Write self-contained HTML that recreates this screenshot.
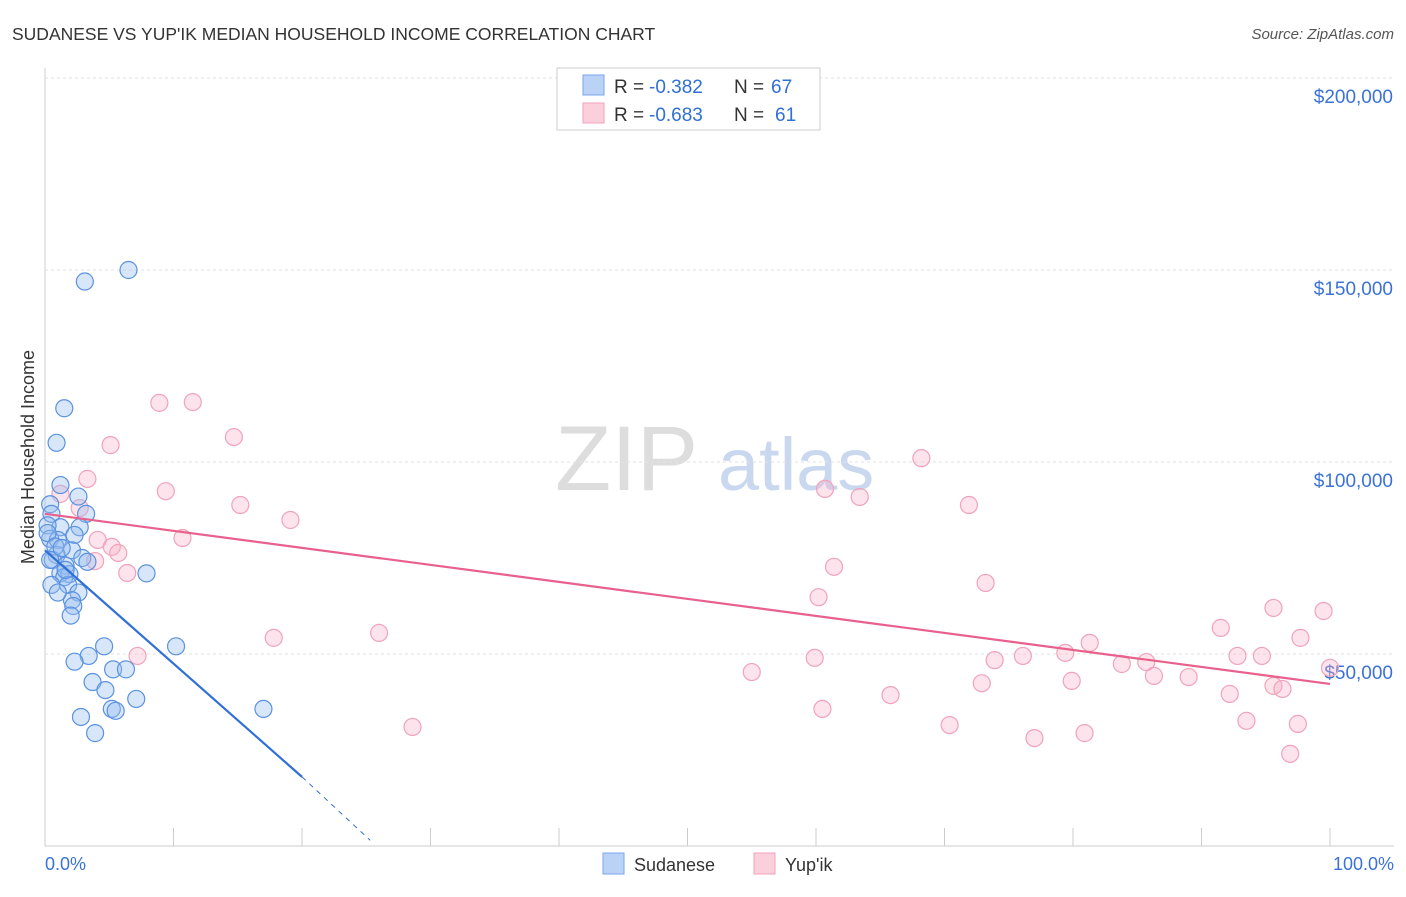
<!DOCTYPE html>
<html><head><meta charset="utf-8"><style>
body{margin:0;background:#fff;font-family:"Liberation Sans",sans-serif}
svg text{font-family:"Liberation Sans",sans-serif}
</style></head><body>
<svg id="chart" width="1406" height="892">
<text x="12" y="40" font-size="17.5" fill="#333">SUDANESE VS YUP'IK MEDIAN HOUSEHOLD INCOME CORRELATION CHART</text>
<text x="1394" y="39" font-size="15" fill="#555" font-style="italic" text-anchor="end">Source: ZipAtlas.com</text>
<g>
<text x="555" y="490" font-size="92" fill="#ddd" font-family="Liberation Serif,serif">ZIP</text>
<text x="718" y="490" font-size="74" fill="#c9d8ef">atlas</text>
</g>
<g id="grid"></g>
<g id="marks"></g>
<g>
<rect x="557" y="68" width="263" height="62" fill="#fff" stroke="#ccc"/>
<rect x="583" y="75" width="21" height="20" fill="#b9d2f5" stroke="#7aa6e8"/>
<rect x="583" y="103" width="21" height="20" fill="#fbcfdc" stroke="#f0a3bb"/>
<text x="614" y="93" font-size="19" fill="#333">R =</text>
<text x="649" y="93" font-size="19" fill="#2f6fd6">-0.382</text>
<text x="734" y="93" font-size="19" fill="#333">N =</text>
<text x="771" y="93" font-size="19" fill="#2f6fd6">67</text>
<text x="614" y="121" font-size="19" fill="#333">R =</text>
<text x="649" y="121" font-size="19" fill="#2f6fd6">-0.683</text>
<text x="734" y="121" font-size="19" fill="#333">N =</text>
<text x="775" y="121" font-size="19" fill="#2f6fd6">61</text>
</g>
<text transform="translate(34,457) rotate(-90)" font-size="18" fill="#333" text-anchor="middle">Median Household Income</text>
<text x="45" y="870" font-size="18" fill="#3a72d8">0.0%</text>
<text x="1394" y="870" font-size="18" fill="#3a72d8" text-anchor="end">100.0%</text>
<g>
<rect x="603" y="853" width="21" height="21" fill="#b9d2f5" stroke="#7aa6e8"/>
<text x="634" y="871" font-size="18" fill="#333">Sudanese</text>
<rect x="754" y="853" width="21" height="21" fill="#fbcfdc" stroke="#f0a3bb"/>
<text x="785" y="871" font-size="18" fill="#333">Yup'ik</text>
</g>
</svg>
<script>
const yTicks=[50000,100000,150000,200000];
const yTickLabels=["$50,000","$100,000","$150,000","$200,000"];
const blueX=[6.5,3.1,1.5,0.9,1.2,2.6,0.4,3.2,0.5,1.2,2.7,0.2,2.3,0.4,1,2.1,0.9,2.9,3.3,0.6,1.6,1.2,1.9,1.5,7.9,0.5,1.8,2.6,2.1,2.2,2,10.2,4.6,3.4,2.3,5.3,6.3,3.7,4.7,7.1,5.2,5.5,17,2.8,3.9,0.2,0.8,1.3,1.6,1,0.4];
const blueY=[150,147,114,105,94,91,89,86.5,86.5,83,83,83.5,81,80,79.7,77,75.8,75,74,74.5,73,71,70.8,70,71,68,68,66,64,62.5,60,52,52,49.5,48,46,46,42.7,40.6,38.3,35.7,35.2,35.7,33.6,29.4,81.5,78,77.6,71.9,66,74.5];
const pinkX=[8.9,11.5,14.7,5.1,3.3,9.4,1.2,15.2,19.1,2.7,10.7,4.1,5.2,5.7,3.9,6.4,7.2,17.8,26,28.6,60.7,63.4,68.2,71.9,61.4,60.2,73.2,55,59.9,60.5,65.8,70.4,72.9,73.9,76.1,77,79.4,81.3,79.9,80.9,83.8,85.7,86.3,89,91.5,92.2,92.8,93.5,94.7,95.6,95.6,96.3,96.9,97.7,97.5,99.5,100];
const pinkY=[115.4,115.6,106.5,104.4,95.6,92.4,91.7,88.8,84.9,88,80.2,79.7,77.9,76.3,74.2,71.1,49.5,54.2,55.5,31,93,90.9,101,88.8,72.7,64.8,68.5,45.3,49,35.7,39.3,31.5,42.4,48.4,49.5,28.1,50.3,52.9,43,29.4,47.4,47.9,44.3,44,56.8,39.6,49.5,32.6,49.5,62,41.7,40.9,24,54.2,31.8,61.2,46.4];
const blueTrend=[77,18,1.5];
const blueTrendX=[0,20,25.3];
const pinkTrend=[86.5,42.2];
const pinkTrendX=[0,100];
const NS="http://www.w3.org/2000/svg";
const X=p=>45+p*12.85;
const Y=v=>846-v*3.84;
function mk(t,a,parent){const e=document.createElementNS(NS,t);for(const k in a)e.setAttribute(k,a[k]);parent.appendChild(e);return e;}
const grid=document.getElementById('grid'),marks=document.getElementById('marks');
let ax=mk('line',{x1:45,y1:68,x2:45,y2:846,stroke:'#ccc'},grid);


let bx=mk('line',{x1:45,y1:846,x2:1394,y2:846,stroke:'#ccc'},grid);


for(let i=0;i<=10;i++){let t=mk('line',{x1:X(i*10),y1:828,x2:X(i*10),y2:846,stroke:'#ccc'},grid);

}
yTicks.forEach((v,i)=>{const y=Y(v/1000);
let g=mk('line',{x1:45,y1:y,x2:1394,y2:y,stroke:'#e2e2e2','stroke-dasharray':'3,3'},grid);


let t=mk('text',{x:1393,y:y+25,'font-size':19,fill:'#3a72d8','text-anchor':'end'},grid);t.textContent=yTickLabels[i];

});
pinkX.forEach((p,i)=>{let c=mk('circle',{cx:X(p),cy:Y(pinkY[i]),r:8.5,fill:'rgba(248,176,198,0.35)',stroke:'#f0a3bb','stroke-width':1.2},marks);

});
blueX.forEach((p,i)=>{let c=mk('circle',{cx:X(p),cy:Y(blueY[i]),r:8.5,fill:'rgba(150,188,240,0.38)',stroke:'#5b92e0','stroke-width':1.2},marks);

});
let pl=mk('line',{x1:X(pinkTrendX[0]),y1:Y(pinkTrend[0]),x2:X(pinkTrendX[1]),y2:Y(pinkTrend[1]),stroke:'#e8608c','stroke-width':2.2},marks);


let bl=mk('line',{x1:X(blueTrendX[0]),y1:Y(blueTrend[0]),x2:X(blueTrendX[1]),y2:Y(blueTrend[1]),stroke:'#2f6fd6','stroke-width':2.2},marks);


let bd=mk('line',{x1:X(blueTrendX[1]),y1:Y(blueTrend[1]),x2:X(blueTrendX[2]),y2:Y(blueTrend[2]),stroke:'#2f6fd6','stroke-width':1,'stroke-dasharray':'5,5'},marks);


</script>
</body></html>
